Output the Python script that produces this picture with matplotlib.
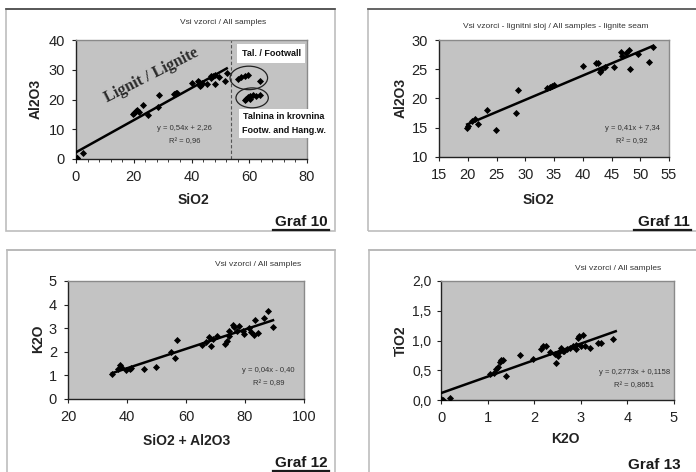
import numpy as np
import matplotlib
matplotlib.use("Agg")
import matplotlib.pyplot as plt
from matplotlib.patches import Rectangle, Ellipse
from matplotlib.lines import Line2D
from matplotlib.ticker import MultipleLocator

plt.rcParams['font.family'] = ['Liberation Sans', 'DejaVu Sans']

# ---- data ----
# lignite seam samples (Graf 10 and Graf 11)
lig_sio2 = [19.9, 20.0, 20.8, 21.2, 21.8, 23.3, 24.9, 28.4, 28.7, 33.8, 34.3, 34.6, 35.0,
            40.1, 42.3, 42.7, 43.0, 43.2, 43.8, 45.4, 46.6, 46.8, 47.5, 48.1, 48.3, 49.6,
            51.5, 52.2]
lig_al2o3 = [15.0, 15.3, 16.2, 16.5, 15.7, 18.0, 14.7, 17.5, 21.5, 21.8, 22.0, 22.2, 22.3,
             25.6, 26.1, 26.0, 24.6, 24.8, 25.4, 25.3, 28.0, 27.2, 27.8, 28.3, 25.1, 27.6,
             26.3, 28.8]
# near-zero lignite samples shown only in Graf 10
low_sio2 = [0.3, 0.5, 2.5]
low_al2o3 = [0.3, 0.2, 2.0]
# footwall cluster
fw_sio2 = [56.1, 57.3, 58.4, 59.6, 63.6]
fw_al2o3 = [26.8, 27.4, 27.8, 28.2, 26.3]
# footwall and hanging wall cluster
hw_sio2 = [58.4, 59.0, 59.6, 60.2, 60.4, 61.3, 62.5, 63.6]
hw_al2o3 = [19.7, 20.3, 20.8, 20.3, 21.2, 21.4, 21.2, 21.4]
seam_limit = 53.6
fit10 = [0.54, 2.26]

# Graf 12
sa_sum = [34.9, 36.9, 37.5, 38.0, 39.7, 40.9, 41.4, 45.7, 49.9, 55.0, 56.4, 57.0, 65.5, 66.8,
          67.7, 68.5, 69.0, 70.4, 73.2, 73.9, 74.7, 74.7, 75.8, 76.4, 77.2, 77.9, 79.2, 79.8,
          81.3, 82.1, 83.2, 83.4, 84.4, 86.6, 87.8, 89.5]
k2o_12 = [1.08, 1.27, 1.44, 1.34, 1.24, 1.27, 1.30, 1.27, 1.37, 1.99, 1.75, 2.49, 2.28, 2.42,
          2.61, 2.24, 2.54, 2.68, 2.32, 2.45, 2.68, 2.89, 3.14, 3.03, 2.89, 3.10, 2.89, 2.75,
          2.99, 2.82, 2.70, 3.34, 2.80, 3.45, 3.73, 3.06]

# Graf 13
k2o_13 = [0.0, 0.04, 0.2, 1.06, 1.13, 1.19, 1.22, 1.26, 1.29, 1.33, 1.40, 1.70, 1.97, 2.15,
          2.18, 2.25, 2.33, 2.44, 2.47, 2.52, 2.54, 2.58, 2.62, 2.65, 2.70, 2.77, 2.83, 2.90,
          2.90, 2.94, 2.97, 3.00, 3.04, 3.10, 3.19, 3.37, 3.44, 3.69]
tio2 = [0.01, 0.0, 0.04, 0.44, 0.46, 0.52, 0.56, 0.64, 0.67, 0.67, 0.40, 0.75, 0.69, 0.86,
        0.90, 0.91, 0.81, 0.77, 0.62, 0.74, 0.80, 0.87, 0.83, 0.82, 0.85, 0.88, 0.90, 0.92,
        0.85, 1.05, 1.08, 0.91, 1.09, 0.90, 0.88, 0.95, 0.96, 1.03]
fit13 = [0.2773, 0.1158]

eq10 = ["y = 0,54x + 2,26", "R² = 0,96"]
eq11 = ["y = 0,41x + 7,34", "R² = 0,92"]
eq12 = ["y = 0,04x - 0,40", "R² = 0,89"]
eq13 = ["y = 0,2773x + 0,1158", "R² = 0,8651"]

ticks10x = [0, 20, 40, 60, 80]
ticks10y = [0, 10, 20, 30, 40]
ticks11x = [15, 20, 25, 30, 35, 40, 45, 50, 55]
ticks11y = [10, 15, 20, 25, 30]
ticks12x = [20, 40, 60, 80, 100]
ticks12y = [0, 1, 2, 3, 4, 5]
ticks13x = [0, 1, 2, 3, 4, 5]
ticks13y = [0, 0.5, 1.0, 1.5, 2.0]
labels13y = ["0,0", "0,5", "1,0", "1,5", "2,0"]

W, H = 696, 472
fig = plt.figure(figsize=(W / 100, H / 100), dpi=100)
fig.patch.set_facecolor('white')


def fx(x):
    return x / W


def fy(y):
    return 1 - y / H


def box(x0, y0, x1, y1, topcol='#b8b8b8'):
    fig.patches.append(Rectangle((fx(x0), fy(y1)), fx(x1 - x0), (y1 - y0) / H,
                                 transform=fig.transFigure, fill=False,
                                 edgecolor='#bdbdbd', lw=1.2))
    fig.lines.append(Line2D([fx(x0), fx(x1)], [fy(y0), fy(y0)],
                            transform=fig.transFigure, color=topcol, lw=1.2))


def panel(x0, y0, x1, y1):
    ax = fig.add_axes([fx(x0), fy(y1), (x1 - x0) / W, (y1 - y0) / H])
    ax.set_facecolor('#c3c3c3')
    for s in ['top', 'right']:
        ax.spines[s].set_color('#8a8a8a')
    for s in ['left', 'bottom']:
        ax.spines[s].set_color('#222222')
    for s in ax.spines.values():
        s.set_linewidth(1.0)
    ax.tick_params(direction='out', length=3, width=0.8, labelsize=10.5, pad=5,
                   colors='#222222')
    return ax


def graf(text, xr, yb):
    t = fig.text(fx(xr), fy(yb), text, ha='right', va='baseline', fontsize=11,
                 fontweight='bold', color='#1a1a1a')
    return t


def underline(xl, xr, y):
    fig.lines.append(Line2D([fx(xl), fx(xr)], [fy(y), fy(y)], transform=fig.transFigure,
                            color='#1a1a1a', lw=1.6))


def trend(ax, x, y, coef=None):
    if coef is None:
        coef = np.polyfit(x, y, 1)
    k, n = coef
    xs = np.array([min(x), max(x)])
    ax.plot(xs, k * xs + n, color='black', lw=1.8, zorder=3)


def points(ax, x, y):
    ax.scatter(x, y, marker='D', s=13, color='black', zorder=4, linewidths=0)


def eq(ax, xf, yf, lines):
    ax.text(xf, yf, lines[0], transform=ax.transAxes, ha='center', va='center',
            fontsize=5.5, color='#333333')
    ax.text(xf, yf - 0.11, lines[1], transform=ax.transAxes, ha='center', va='center',
            fontsize=5.5, color='#333333')


# frames
box(6, 9, 335, 231, topcol='#444444')
box(368, 9, 700, 231, topcol='#555555')
box(7, 250, 335, 480)
box(369, 250, 700, 480)

# ---- Graf 10 ----
ax1 = panel(76, 40, 307, 159)
x10 = low_sio2 + lig_sio2
y10 = low_al2o3 + lig_al2o3
trend(ax1, [0] + x10, [0] + y10, fit10)
points(ax1, x10, y10)
points(ax1, fw_sio2, fw_al2o3)
points(ax1, hw_sio2, hw_al2o3)
ax1.axvline(seam_limit, color='#555555', lw=0.8, ls=(0, (3, 2)), zorder=2)
for cx, cy, pw, ph in [(fw_sio2, fw_al2o3, 5.5, 6.0), (hw_sio2, hw_al2o3, 6.0, 5.0)]:
    ax1.add_patch(Ellipse((np.mean([min(cx), max(cx)]), np.mean([min(cy), max(cy)])),
                          max(cx) - min(cx) + pw, max(cy) - min(cy) + ph,
                          fill=False, edgecolor='#222222', lw=0.9, zorder=5))
ax1.set_xlim(0, 80)
ax1.set_ylim(0, 40)
ax1.set_xticks(ticks10x)
ax1.set_yticks(ticks10y)
ax1.xaxis.set_minor_locator(MultipleLocator(4))
ax1.tick_params(which='minor', direction='out', length=2, width=0.6, colors='#222222')
ax1.text(26, 28, "Lignit / Lignite", rotation=27, ha='center', va='center',
         fontsize=11.5, fontweight='bold', family='Liberation Serif', color='#2b2b2b')
eq(ax1, 0.47, 0.26, eq10)
fig.text(fx(271), fy(53.5), "Tal. / Footwall", ha='center', va='center', fontsize=6.5,
         fontweight='bold', color='#111111',
         bbox=dict(facecolor='white', edgecolor='none', pad=3.5))
fig.text(fx(284), fy(123.5), "Talnina in krovnina\nFootw. and Hang.w.", ha='center',
         va='center', fontsize=6.5, fontweight='bold', color='#111111', linespacing=1.6,
         bbox=dict(facecolor='white', edgecolor='none', pad=2.5))
fig.text(fx(223), fy(23), "Vsi vzorci / All samples", ha='center', va='center',
         fontsize=6, color='#333333')
fig.text(fx(36), fy(99), "Al2O3", rotation=90, ha='center', va='center', fontsize=10,
         fontweight='bold', color='#222222')
fig.text(fx(193), fy(200), "SiO2", ha='center', va='center', fontsize=10,
         fontweight='bold', color='#222222')
graf("Graf 10", 328, 226)
underline(273, 329, 230)

# ---- Graf 11 ----
ax2 = panel(439, 40, 669, 157)
trend(ax2, lig_sio2, lig_al2o3)
points(ax2, lig_sio2, lig_al2o3)
ax2.set_xlim(15, 55)
ax2.set_ylim(10, 30)
ax2.set_xticks(ticks11x)
ax2.set_yticks(ticks11y)
eq(ax2, 0.84, 0.24, eq11)
fig.text(fx(556), fy(27), "Vsi vzorci - lignitni sloj / All samples - lignite seam",
         ha='center', va='center', fontsize=6, color='#333333')
fig.text(fx(401), fy(98), "Al2O3", rotation=90, ha='center', va='center', fontsize=10,
         fontweight='bold', color='#222222')
fig.text(fx(538), fy(200), "SiO2", ha='center', va='center', fontsize=10,
         fontweight='bold', color='#222222')
graf("Graf 11", 690, 226)
underline(634, 691, 230)

# ---- Graf 12 ----
ax3 = panel(68, 281, 304, 399)
trend(ax3, sa_sum, k2o_12)
points(ax3, sa_sum, k2o_12)
ax3.set_xlim(20, 100)
ax3.set_ylim(0, 5)
ax3.set_xticks(ticks12x)
ax3.set_yticks(ticks12y)
eq(ax3, 0.85, 0.24, eq12)
fig.text(fx(258), fy(264), "Vsi vzorci / All samples", ha='center', va='center',
         fontsize=6, color='#333333')
fig.text(fx(38), fy(339), "K2O", rotation=90, ha='center', va='center', fontsize=10,
         fontweight='bold', color='#222222')
fig.text(fx(187), fy(441), "SiO2 + Al2O3", ha='center', va='center', fontsize=10,
         fontweight='bold', color='#222222')
graf("Graf 12", 328, 467)
underline(273, 329, 471)

# ---- Graf 13 ----
ax4 = panel(441, 281, 674, 400)
trend(ax4, [0] + k2o_13[1:] + [3.75], [0] + tio2[1:] + [0], fit13)
points(ax4, k2o_13, tio2)
ax4.set_xlim(0, 5)
ax4.set_ylim(0, 2)
ax4.set_xticks(ticks13x)
ax4.set_yticks(ticks13y)
ax4.set_yticklabels(labels13y)
ax4.tick_params(axis='y', labelsize=10, pad=4)
eq(ax4, 0.83, 0.23, eq13)
fig.text(fx(618), fy(269), "Vsi vzorci / All samples", ha='center', va='center',
         fontsize=6, color='#333333')
fig.text(fx(401), fy(341), "TiO2", rotation=90, ha='center', va='center', fontsize=10,
         fontweight='bold', color='#222222')
fig.text(fx(565), fy(439), "K2O", ha='center', va='center', fontsize=10,
         fontweight='bold', color='#222222')
graf("Graf 13", 681, 469)

fig.savefig("out.png", dpi=100)
